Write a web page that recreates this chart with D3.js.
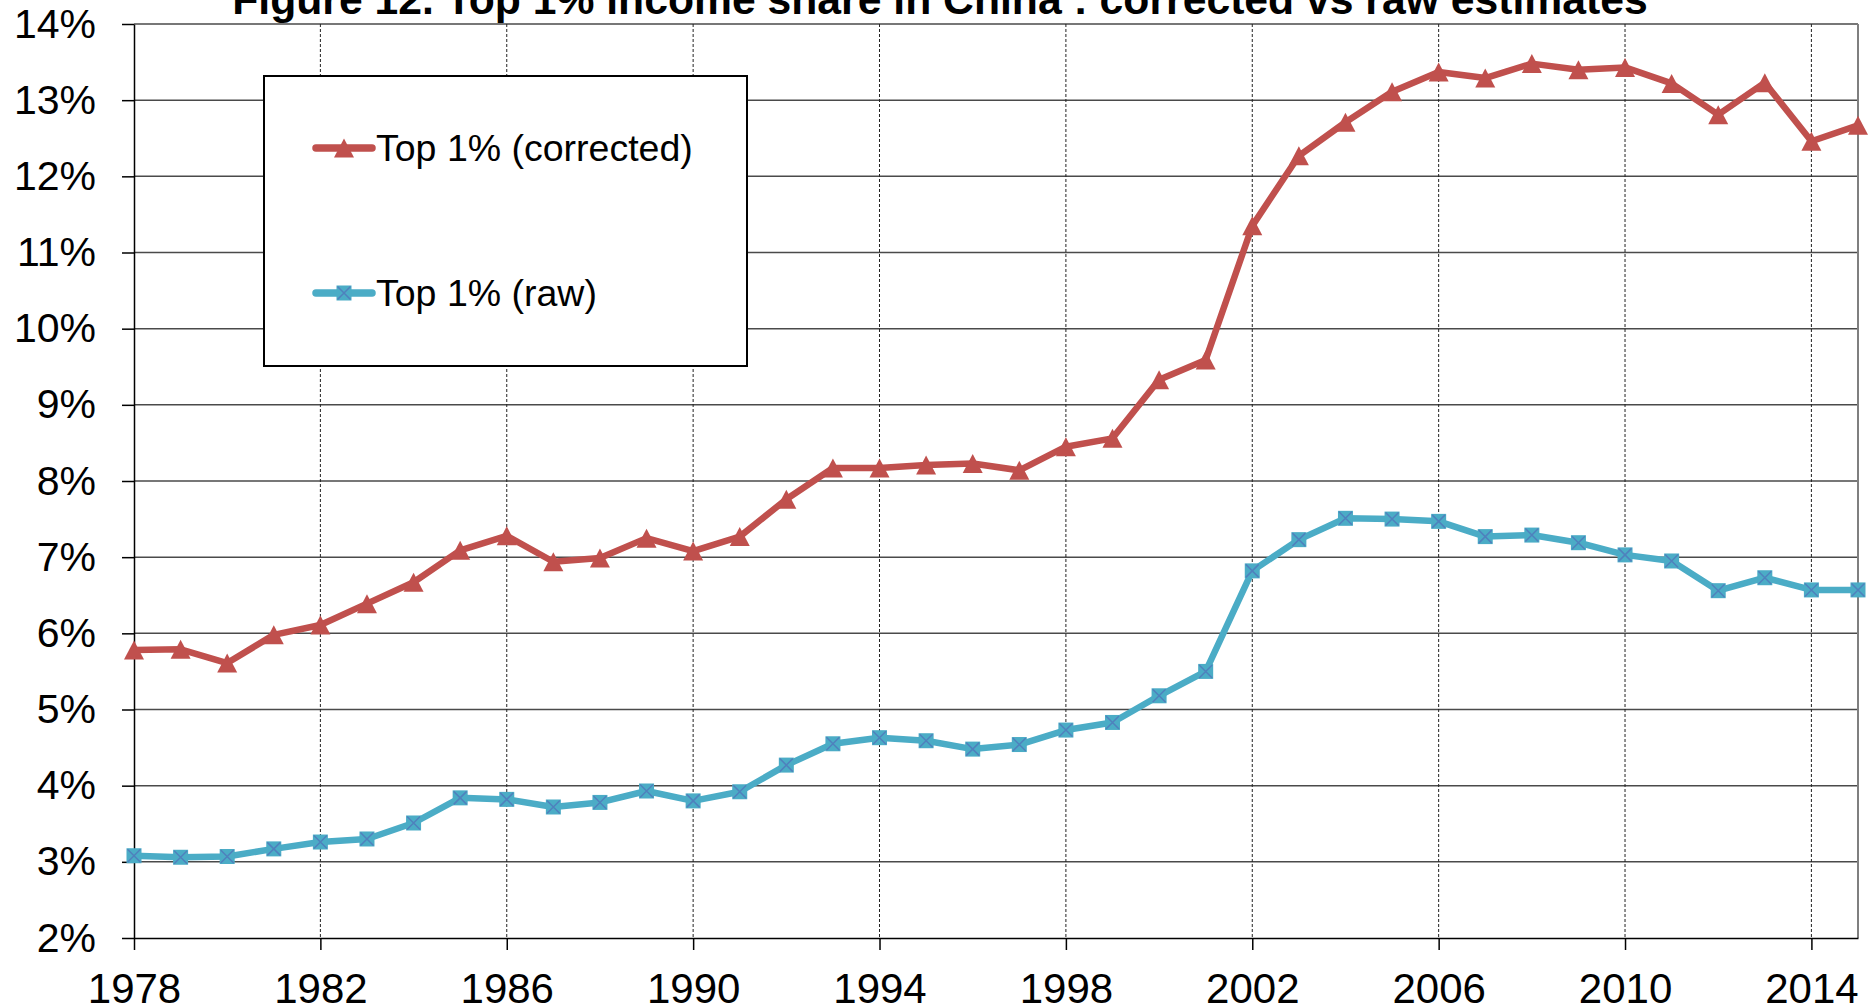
<!DOCTYPE html>
<html>
<head>
<meta charset="utf-8">
<script src="https://cdn.jsdelivr.net/npm/d3@7"></script>
<style>
  html, body { margin: 0; padding: 0; background: #fff; }
  svg { display: block; }
  text { font-family: "Liberation Sans", Arial, sans-serif; }
</style>
</head>
<body>
<svg id="chart" width="1871" height="1008"></svg>
<script>
const years = [1978,1979,1980,1981,1982,1983,1984,1985,1986,1987,1988,1989,1990,1991,1992,1993,1994,1995,1996,1997,1998,1999,2000,2001,2002,2003,2004,2005,2006,2007,2008,2009,2010,2011,2012,2013,2014,2015];
const corrected = [5.78,5.79,5.61,5.98,6.11,6.39,6.67,7.09,7.28,6.94,6.99,7.25,7.08,7.27,7.76,8.17,8.17,8.21,8.23,8.14,8.45,8.56,9.33,9.59,11.35,12.27,12.71,13.11,13.37,13.29,13.48,13.40,13.43,13.22,12.81,13.23,12.46,12.67];
const raw = [3.08,3.06,3.07,3.17,3.26,3.30,3.51,3.84,3.82,3.72,3.78,3.93,3.80,3.92,4.27,4.55,4.63,4.59,4.48,4.54,4.73,4.83,5.18,5.50,6.82,7.23,7.51,7.50,7.47,7.27,7.29,7.19,7.03,6.95,6.56,6.73,6.57,6.57];
const yTicks = [2,3,4,5,6,7,8,9,10,11,12,13,14];
const xTicks = [1978,1982,1986,1990,1994,1998,2002,2006,2010,2014];
const seriesNames = ["Top 1% (corrected)", "Top 1% (raw)"];
const titleText = "Figure 12. Top 1% income share in China : corrected vs raw estimates";

(function () {
const RED = "#C0504D", AQUA = "#4BACC6", XBLUE = "#4F81BD";
const svg = d3.select("#chart");
const pL = 134, pR = 1858, pT = 24, pB = 938;

const x = d3.scaleLinear().domain([1978, 2015]).range([pL, pR]);
const y = d3.scaleLinear().domain([2, 14]).range([pB, pT]);

// horizontal gridlines
svg.append("g").selectAll("line").data(yTicks.filter(d => d > 2)).join("line")
  .attr("x1", pL).attr("x2", pR)
  .attr("y1", d => y(d)).attr("y2", d => y(d))
  .attr("stroke", "#4a4a4a").attr("stroke-width", 1.5);

// vertical dotted gridlines
svg.append("g").selectAll("line").data(xTicks.filter(d => d > 1978)).join("line")
  .attr("x1", d => x(d)).attr("x2", d => x(d))
  .attr("y1", pT).attr("y2", pB)
  .attr("stroke", "#222").attr("stroke-width", 1)
  .attr("stroke-dasharray", "3,2");

// right border
svg.append("line").attr("x1", x(2015)).attr("x2", x(2015))
  .attr("y1", pT).attr("y2", pB)
  .attr("stroke", "#7f7f7f").attr("stroke-width", 2);

// axes
const yAxis = d3.axisLeft(y).tickValues(yTicks).tickFormat(d => d + "%")
  .tickSize(12).tickPadding(26).tickSizeOuter(0);
const gy = svg.append("g").attr("transform", `translate(${pL},0)`).call(yAxis);
gy.selectAll("text").attr("font-size", 41).attr("fill", "#000")
  .style("font-family", "'Liberation Sans', Arial, sans-serif");
gy.selectAll("line").attr("stroke", "#000").attr("stroke-width", 1.5);
gy.select(".domain").attr("stroke", "#000").attr("stroke-width", 1.5);

const xAxis = d3.axisBottom(x).tickValues(xTicks).tickFormat(d3.format("d"))
  .tickSize(12).tickPadding(23).tickSizeOuter(0);
const gx = svg.append("g").attr("transform", `translate(0,${pB})`).call(xAxis);
gx.selectAll("text").attr("font-size", 42).attr("fill", "#000")
  .style("font-family", "'Liberation Sans', Arial, sans-serif");
gx.selectAll("line").attr("stroke", "#000").attr("stroke-width", 1.5);
gx.select(".domain").attr("stroke", "#000").attr("stroke-width", 1.5);

// lines
const line = d3.line().x((d, i) => x(years[i])).y(d => y(d));
svg.append("path").datum(corrected).attr("d", line)
  .attr("fill", "none").attr("stroke", RED).attr("stroke-width", 6.5)
  .attr("stroke-linejoin", "round").attr("stroke-linecap", "round");
svg.append("path").datum(raw).attr("d", line)
  .attr("fill", "none").attr("stroke", AQUA).attr("stroke-width", 6.5)
  .attr("stroke-linejoin", "round").attr("stroke-linecap", "round");

// markers
const triPath = "M0,-9.5L10,9.5L-10,9.5Z";
function triangle(g, cx, cy) {
  g.append("path").attr("d", triPath).attr("transform", `translate(${cx},${cy})`)
    .attr("fill", RED);
}
function squareX(g, cx, cy) {
  const s = 7.5;
  const m = g.append("g").attr("transform", `translate(${cx},${cy})`);
  m.append("rect").attr("x", -s).attr("y", -s).attr("width", 2*s).attr("height", 2*s)
    .attr("fill", AQUA);
  m.append("path").attr("d", `M${-s+1},${-s+1}L${s-1},${s-1}M${s-1},${-s+1}L${-s+1},${s-1}`)
    .attr("stroke", XBLUE).attr("stroke-width", 1.5).attr("fill", "none");
}
const mg = svg.append("g");
corrected.forEach((v, i) => triangle(mg, x(years[i]), y(v)));
raw.forEach((v, i) => squareX(mg, x(years[i]), y(v)));

// legend
const lg = svg.append("g");
lg.append("rect").attr("x", 264).attr("y", 76).attr("width", 483).attr("height", 290)
  .attr("fill", "#fff").attr("stroke", "#000").attr("stroke-width", 2);
const legendRows = [
  {name: seriesNames[0], color: RED, ly: 148, ty: 161, marker: triangle},
  {name: seriesNames[1], color: AQUA, ly: 293, ty: 306, marker: squareX}
];
legendRows.forEach(r => {
  lg.append("line").attr("x1", 316).attr("x2", 372).attr("y1", r.ly).attr("y2", r.ly)
    .attr("stroke", r.color).attr("stroke-width", 7.5).attr("stroke-linecap", "round");
  r.marker(lg, 344, r.ly);
  lg.append("text").attr("x", 376).attr("y", r.ty).attr("font-size", 37.5)
    .attr("fill", "#000").text(r.name);
});

// title (partially cut at top as in reference)
svg.append("text").attr("x", 940).attr("y", 14).attr("text-anchor", "middle")
  .attr("font-size", 42.7).attr("font-weight", "bold").attr("fill", "#000")
  .text(titleText);
})();
</script>
</body>
</html>
